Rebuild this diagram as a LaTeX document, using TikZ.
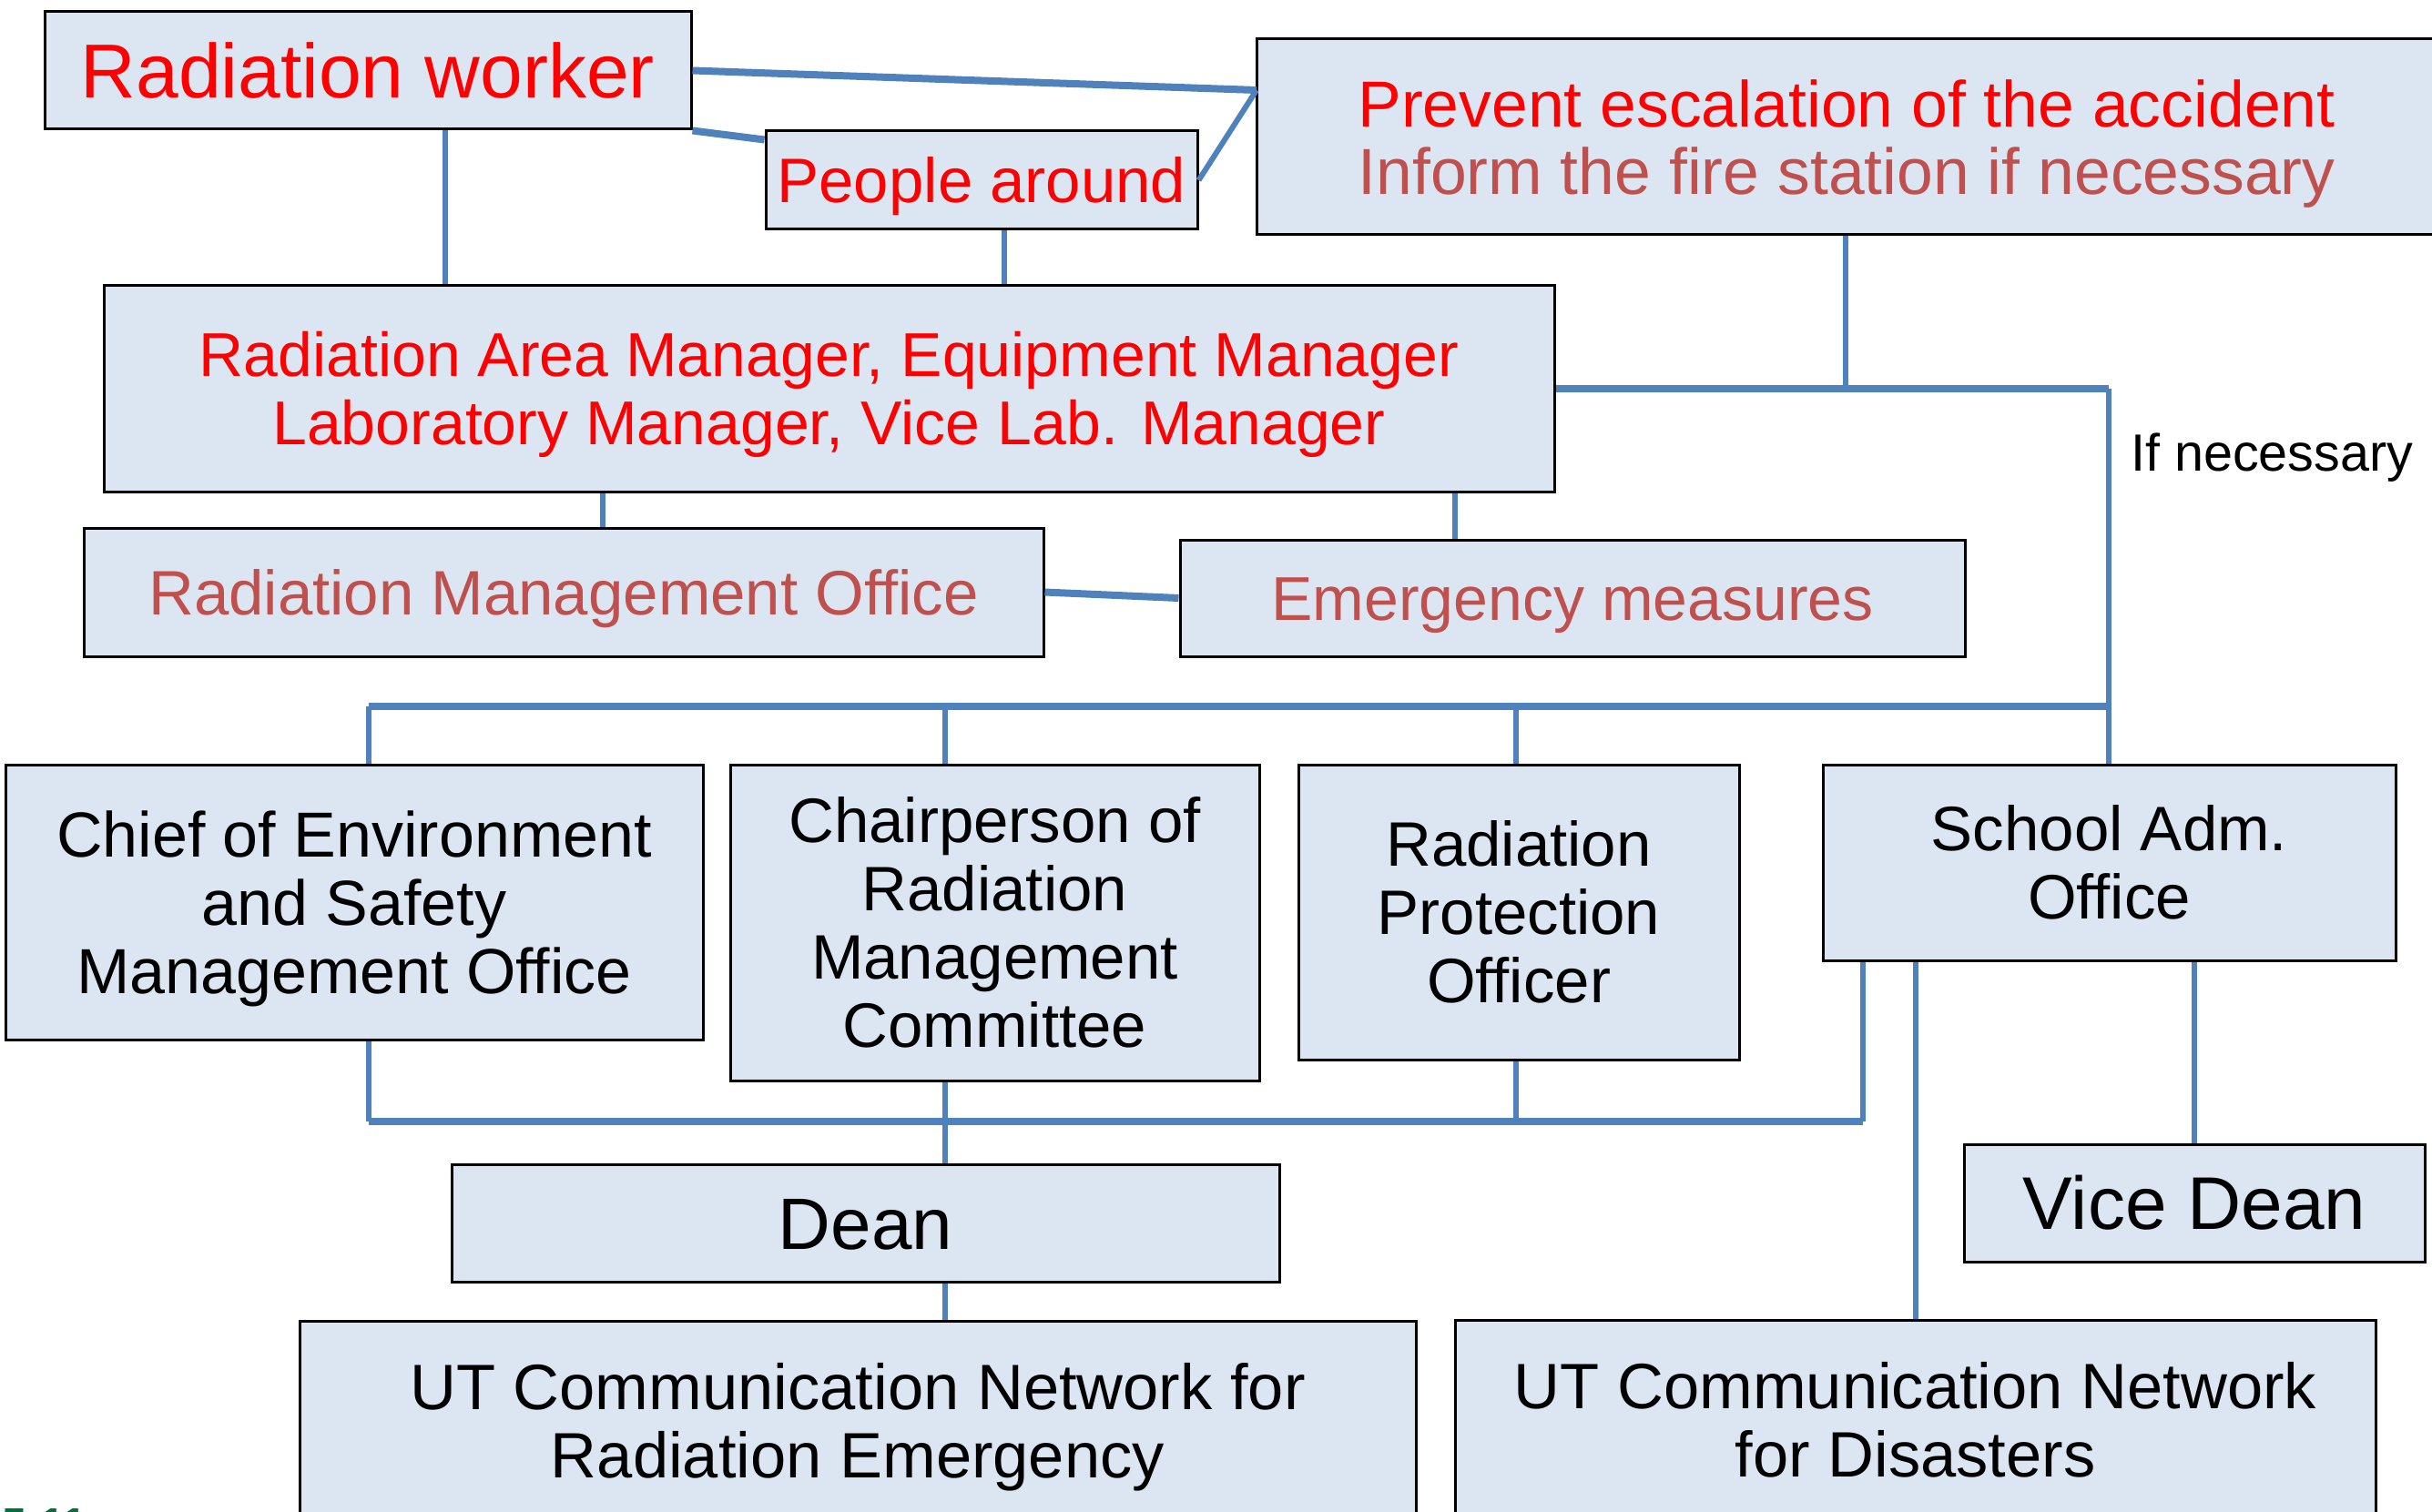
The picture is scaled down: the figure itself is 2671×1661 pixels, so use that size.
\documentclass[tikz,border=0pt]{standalone}
\usepackage{fontspec}
\setmainfont{Liberation Sans}
\definecolor{boxfill}{RGB}{220,230,242}
\definecolor{lineblue}{RGB}{79,129,189}
\definecolor{txtred}{RGB}{255,0,0}
\definecolor{txtbrown}{RGB}{192,80,77}
\definecolor{slidegreen}{RGB}{0,112,60}
\newcommand\mlines[2]{\vbox{\baselineskip=#1pt\lineskiplimit=-1000pt\lineskip=0pt\halign{\hfil##\hfil\cr#2\crcr}}}
\newcommand\fsz[2]{\fontsize{#1pt}{#2pt}\selectfont}
\tikzset{
  box/.style={draw=black, line width=3pt, fill=boxfill, rectangle, inner sep=0pt, text depth=0pt},
  conn/.style={draw=lineblue, line width=6pt},
  thickconn/.style={draw=lineblue, line width=8pt},
}
\begin{document}
\begin{tikzpicture}[x=1pt,y=-1pt]
\useasboundingbox (0,0) rectangle (2671,1661);
\fill[white] (0,0) rectangle (2671,1661);

% boxes
\node[box, minimum width=710pt, minimum height=129pt, font=\fsz{84}{90}, text=txtred, text height=60.1pt] (rw) at (404,77.5) {Radiation worker};
\node[box, minimum width=474pt, minimum height=108pt, font=\fsz{69}{75}, text=txtred, text height=49.4pt] (pa) at (1078,198) {People around};
\node[box, minimum width=1296pt, minimum height=215pt, font=\fsz{71.5}{74}, text height=125.2pt] (prev) at (2028,150.5)
  {\mlines{74}{\textcolor{txtred}{Prevent escalation of the accident}\cr \textcolor{txtbrown}{Inform the fire station if necessary}}};
\node[box, minimum width=1593pt, minimum height=226pt, font=\fsz{68}{75}, text=txtred, text height=123.7pt] (ram) at (910.5,427)
  {\mlines{75}{Radiation Area Manager, Equipment Manager\cr Laboratory Manager, Vice Lab. Manager}};
\node[box, minimum width=1054pt, minimum height=141pt, font=\fsz{69}{75}, text=txtbrown, text height=49.4pt] (rmo) at (619,650.5) {Radiation Management Office};
\node[box, minimum width=862pt, minimum height=128pt, font=\fsz{68}{75}, text=txtbrown, text height=48.7pt] (em) at (1727,657) {Emergency measures};
\node[box, minimum width=766pt, minimum height=302pt, font=\fsz{70}{75}, text height=200.1pt] (chief) at (389,991)
  {\mlines{75}{Chief of Environment\cr and Safety\cr Management Office}};
\node[box, minimum width=581pt, minimum height=347pt, font=\fsz{69}{75}, text height=274.4pt] (chair) at (1092.5,1013.5)
  {\mlines{75}{Chairperson of\cr Radiation\cr Management\cr Committee}};
\node[box, minimum width=484pt, minimum height=324pt, font=\fsz{69}{75}, text height=199.4pt] (rpo) at (1668,1002)
  {\mlines{75}{Radiation\cr Protection\cr Officer}};
\node[box, minimum width=629pt, minimum height=215pt, font=\fsz{69}{75}, text height=124.4pt] (school) at (2316.5,947.5)
  {\mlines{75}{School Adm.\cr Office}};
\node[box, minimum width=909pt, minimum height=129pt, font=\fsz{80}{88}, text height=57.3pt] (dean) at (950.5,1343.5) {Dean};
\node[box, minimum width=506pt, minimum height=129pt, font=\fsz{82}{90}, text height=58.7pt] (vd) at (2410,1321.5) {Vice Dean};
\node[box, minimum width=1226pt, minimum height=220pt, font=\fsz{70.5}{75}, text height=125.5pt] (utr) at (942,1561)
  {\mlines{75}{UT Communication Network for\cr Radiation Emergency}};
\node[box, minimum width=1011pt, minimum height=220pt, font=\fsz{70.5}{75}, text height=125.5pt] (utd) at (2103.5,1560)
  {\mlines{75}{UT Communication Network\cr for Disasters}};

\node[anchor=base west, inner sep=0pt, font=\fsz{57.5}{60}] (ifnec) at (2340,517) {If necessary};
\node[anchor=base west, inner sep=0pt, font=\bfseries\fsz{48}{52}, text=slidegreen] (pageno) at (2,1690) {5-11};

% junction coordinates
\coordinate (pj) at (1380,99);
\coordinate (xa) at (489,0);
\coordinate (xb) at (1103,0);
\coordinate (xc) at (662,0);
\coordinate (xd) at (1598,0);
\coordinate (jt) at (2027,427);
\coordinate (jr) at (2316,427);
\coordinate (ub1) at (405,776);
\coordinate (ub2) at (2316,776);
\coordinate (xe) at (1038,0);
\coordinate (xf) at (1665,0);
\coordinate (lb1) at (405,1232);
\coordinate (lb2) at (2046,1232);

% connectors
\draw[thickconn] (rw.east) -- (pj);
\draw[thickconn] (rw.south east) -- ([yshift=-11pt]pa.north west);
\draw[conn] (pa.east) -- (pj);
\draw[conn] (rw.south -| xa) -- (ram.north -| xa);
\draw[conn] (pa.south -| xb) -- (ram.north -| xb);
\draw[conn] (prev.south -| jt) -- (jt);
\draw[thickconn] (ram.east) -- (jr);
\draw[conn] (jr) -- (school.north -| jr);
\draw[conn] (ram.south -| xc) -- (rmo.north -| xc);
\draw[conn] (ram.south -| xd) -- (em.north -| xd);
\draw[thickconn] (rmo.east) -- (em.west);
\draw[thickconn] (ub1) -- (ub2);
\draw[conn] (ub1) -- (chief.north -| ub1);
\draw[conn] (ub1 -| xe) -- (chair.north -| xe);
\draw[conn] (ub1 -| xf) -- (rpo.north -| xf);
\draw[conn] (chief.south -| lb1) -- (lb1);
\draw[thickconn] (lb1) -- (lb2);
\draw[conn] (lb2) -- (school.south -| lb2);
\draw[conn] (chair.south -| xe) -- (dean.north -| xe);
\draw[conn] (rpo.south -| xf) -- (lb1 -| xf);
\draw[conn] (dean.south -| xe) -- (utr.north -| xe);
\draw[conn] (school.south -| utd.north) -- (utd.north);
\draw[conn] (school.south -| vd.north) -- (vd.north);
\end{tikzpicture}
\end{document}
